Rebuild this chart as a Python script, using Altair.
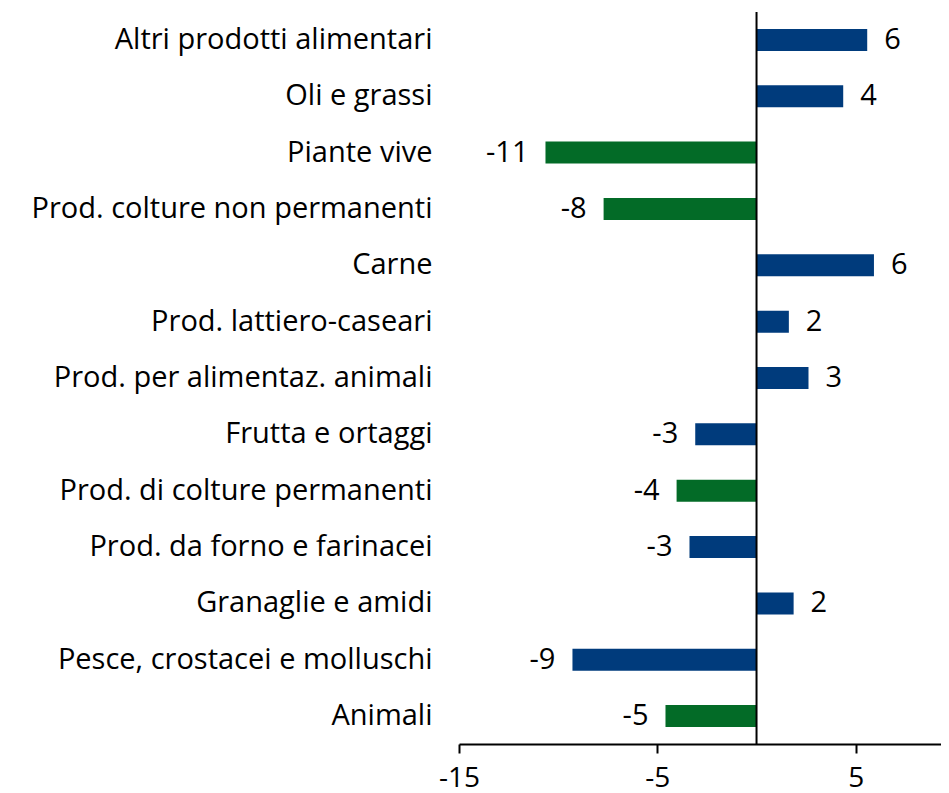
import altair as alt
import pandas as pd

categories = [
    "Altri prodotti alimentari",
    "Oli e grassi",
    "Piante vive",
    "Prod. colture non permanenti",
    "Carne\u00a0",
    "Prod. lattiero-caseari",
    "Prod. per alimentaz. animali",
    "Frutta e ortaggi",
    "Prod. di colture permanenti",
    "Prod. da forno e farinacei",
    "Granaglie e amidi\u00a0",
    "Pesce, crostacei e molluschi\u00a0",
    "Animali\u00a0",
]
values = [5.58, 4.37, -10.64, -7.71, 5.92, 1.63, 2.62, -3.09, -4.03, -3.38, 1.87, -9.28, -4.59]
groups = ["a", "a", "b", "b", "a", "a", "a", "a", "b", "a", "a", "a", "b"]
x_ticks = [-15, -5, 5]

BLUE = "#003B7C"
GREEN = "#036B27"
FONT = "Open Sans"
FS = 29

df = pd.DataFrame({"cat": categories, "val": values, "grp": groups})
df["lbl"] = [str(int(round(v))) for v in values]

W, H = 482, 732

xscale = alt.Scale(domain=[-15, 9.3], nice=False, zero=False)
yscale = alt.Scale(domain=categories, paddingInner=0.61, paddingOuter=0.30)

base = alt.Chart(df)

bars = base.mark_bar().encode(
    x=alt.X("val:Q", scale=xscale,
            axis=alt.Axis(values=x_ticks, title=None, grid=False,
                          domainColor="black", domainWidth=2,
                          tickColor="black", tickWidth=2, tickSize=9,
                          labelFontSize=28, labelFont=FONT, labelColor="black",
                          labelFlush=False,
                          labelPadding=11, labelExpr="'' + datum.value")),
    x2=alt.datum(0),
    y=alt.Y("cat:N", scale=yscale, sort=categories,
            axis=alt.Axis(title=None, domain=False, ticks=False,
                          labelFontSize=FS, labelFont=FONT, labelColor="black",
                          labelPadding=27, labelLimit=500)),
    color=alt.Color("grp:N", scale=alt.Scale(domain=["a", "b"], range=[BLUE, GREEN]), legend=None),
)

pos_lbl = base.transform_filter("datum.val >= 0").mark_text(
    align="left", baseline="middle", dx=17, font=FONT, fontSize=FS, color="black"
).encode(x="val:Q", y=alt.Y("cat:N", sort=categories), text="lbl:N")

neg_lbl = base.transform_filter("datum.val < 0").mark_text(
    align="right", baseline="middle", dx=-17, font=FONT, fontSize=FS, color="black"
).encode(x="val:Q", y=alt.Y("cat:N", sort=categories), text="lbl:N")

zero_line = alt.Chart(pd.DataFrame({"z": [0]})).mark_rule(color="black", strokeWidth=2).encode(
    x="z:Q", y=alt.value(0), y2=alt.value(H)
)

chart = alt.layer(bars, zero_line, pos_lbl, neg_lbl).properties(
    width=W, height=H,
    autosize=alt.AutoSizeParams(type="none"),
    padding={"left": 451, "top": 4, "right": 0, "bottom": 50},
).configure_view(stroke=None)

chart.save("out.html", embed_options={"renderer": "svg", "actions": False})
